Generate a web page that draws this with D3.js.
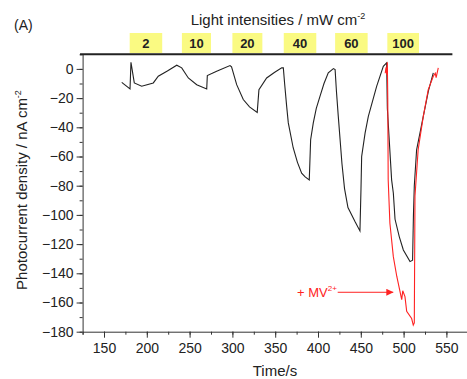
<!DOCTYPE html>
<html>
<head>
	<title></title>
	<script src="https://d3js.org/d3.v7.min.js" charset="utf-8"></script>
	<style type="text/css">
		body { margin: 0; background: #fff; }
		svg text { font-family: 'Liberation Sans', Arial, sans-serif; fill: #222; }
	</style>
</head>
<body>
	<script type="text/javascript">
		// light intensity windows (s)
		var lightLabels = ["2", "10", "20", "40", "60", "100"];
		var lightStart  = [180, 241, 300, 360, 420, 481];
		var lightEnd    = [218, 275, 335, 398, 458, 518];

		// photocurrent without MV2+
		var blackTime = [170.7, 180.4, 181.5, 185.4, 194, 207.6, 213.4, 224, 235, 240.8, 248.5, 258.3, 270, 270.7, 281.6, 297.2, 299,
			305, 312.7, 320, 329, 331, 340, 349, 357.6, 359.5, 361, 363.4, 365.3, 371, 376, 380.9, 385, 389.8, 391.4, 394.5,
			398, 402.3, 407, 412, 418, 420, 421.5, 423.7, 428, 431, 435, 443.2, 449, 450.2, 451, 455, 458.8, 468.5, 476.3,
			480.2, 481, 486, 488, 490, 495, 499.7, 507.5, 510.5, 511.5, 512.5, 515.2, 523, 529, 534.7];
		var blackValue = [-9.2, -13.7, 4.5, -9.6, -11.9, -9.6, -5, -1.5, 2.5, 0.7, -6.2, -10.8, -13.7, -4.6, -1.6, 2.3, 1.4,
			-10.8, -21, -26, -29.8, -14.2, -6.2, -2.5, 0.7, 0.7, -10, -25.7, -37, -54, -64, -71.4, -74, -76, -48.5, -37,
			-27, -18.8, -10, -2.7, 0.2, -0.5, -15, -32.5, -65, -82, -95, -104.6, -111, -82.8, -60, -44, -32.5, -12, 1.8,
			4.1, -27, -76, -85, -103, -115, -124, -132, -131, -100, -80, -55.4, -32.5, -15, -2.7];

		// photocurrent with MV2+
		var redTime = [478.5, 479.5, 480.3, 481, 481.5, 482, 484, 488, 492, 497.8, 499, 501.6, 503.6, 509.4, 511.3, 512.5,
			513.3, 517, 523, 528.8, 534.7, 537, 538, 540.5];
		var redValue = [-3, 1, -4, 4.5, -20, -76, -105.7, -128.6, -142, -158, -152, -156, -166, -171, -175.5, -174,
			-87, -55.4, -32.5, -14.2, -5, -3, -6, 0.7];

		var xTicks = [150, 200, 250, 300, 350, 400, 450, 500, 550];
		var yTicks = [0, -20, -40, -60, -80, -100, -120, -140, -160, -180];

		var w = 467, h = 379;
		var svg = d3.select('body').append('svg')
			.attr('width', w).attr('height', h);

		var x = d3.scaleLinear().domain([125, 575]).range([82.6, 467.8]);
		var y = d3.scaleLinear().domain([-180, 10]).range([331.7, 54.3]);

		// x axis
		svg.append('g')
			.attr('transform', 'translate(0,' + y(-180) + ')')
			.call(d3.axisBottom(x).tickValues(d3.range(125, 576, 25)).tickSize(3).tickFormat(''))
			.call(function(g){ g.selectAll('path,line').attr('stroke', '#333'); });
		svg.append('g')
			.attr('transform', 'translate(0,' + y(-180) + ')')
			.call(d3.axisBottom(x).tickValues(xTicks).tickSize(6).tickPadding(5))
			.call(function(g){
				g.select('.domain').remove();
				g.selectAll('line').attr('stroke', '#333');
				g.selectAll('text').style('font-size', '14px').attr('fill', '#222');
			});

		// y axis
		svg.append('g')
			.attr('transform', 'translate(' + x(125) + ',0)')
			.call(d3.axisLeft(y).tickValues(d3.range(-180, 11, 10)).tickSize(3).tickFormat('').tickSizeOuter(0))
			.call(function(g){ g.selectAll('path,line').attr('stroke', '#333'); });
		svg.append('g')
			.attr('transform', 'translate(' + x(125) + ',0)')
			.call(d3.axisLeft(y).tickValues(yTicks).tickSize(6).tickPadding(3))
			.call(function(g){
				g.select('.domain').remove();
				g.selectAll('line').attr('stroke', '#333');
				g.selectAll('text').style('font-size', '14px').attr('fill', '#222');
			});

		// top bar
		svg.append('line')
			.attr('x1', x(122)).attr('x2', x(557))
			.attr('y1', y(10)).attr('y2', y(10))
			.attr('stroke', '#222').attr('stroke-width', 2);

		var boxes = svg.selectAll('g.light')
			.data(lightLabels)
			.enter().append('g').attr('class', 'light');
		boxes.append('rect')
			.attr('x', function(d, i){ return x(lightStart[i]); })
			.attr('width', function(d, i){ return x(lightEnd[i]) - x(lightStart[i]); })
			.attr('y', 33).attr('height', 20)
			.attr('fill', '#fafa82');
		boxes.append('text')
			.attr('x', function(d, i){ return (x(lightStart[i]) + x(lightEnd[i])) / 2; })
			.attr('y', 48)
			.attr('text-anchor', 'middle')
			.style('font-size', '13px').style('font-weight', 'bold')
			.text(function(d){ return d; });

		var line = d3.line()
			.x(function(d){ return x(d[0]); })
			.y(function(d){ return y(d[1]); });

		svg.append('path')
			.datum(d3.zip(blackTime, blackValue))
			.attr('d', line)
			.attr('fill', 'none').attr('stroke', '#222').attr('stroke-width', 1.1);

		svg.append('path')
			.datum(d3.zip(redTime, redValue))
			.attr('d', line)
			.attr('fill', 'none').attr('stroke', '#ff2222').attr('stroke-width', 1.1);

		// annotation
		svg.append('defs').append('marker')
			.attr('id', 'arr').attr('viewBox', '0 0 10 10')
			.attr('refX', 10).attr('refY', 5)
			.attr('markerWidth', 7).attr('markerHeight', 7)
			.attr('markerUnits', 'userSpaceOnUse')
			.attr('orient', 'auto')
			.append('path').attr('d', 'M0,0L10,5L0,10z').attr('fill', '#ff2222');
		svg.append('line')
			.attr('x1', x(423)).attr('x2', x(488))
			.attr('y1', y(-153)).attr('y2', y(-153))
			.attr('stroke', '#ff2222').attr('stroke-width', 1)
			.attr('marker-end', 'url(#arr)');
		var mv = svg.append('text')
			.attr('x', x(422)).attr('y', y(-156))
			.attr('text-anchor', 'end')
			.style('font-size', '13px').style('fill', '#ff2222');
		mv.append('tspan').text('+ MV');
		mv.append('tspan').attr('dy', -6).style('font-size', '8px').text('2+');

		// titles
		var tt = svg.append('text')
			.attr('x', 278).attr('y', 25)
			.attr('text-anchor', 'middle')
			.style('font-size', '15px');
		tt.append('tspan').text('Light intensities / mW cm');
		tt.append('tspan').attr('dy', -6).style('font-size', '9px').text('-2');

		svg.append('text')
			.attr('x', 14).attr('y', 30)
			.style('font-size', '14px')
			.text('(A)');

		svg.append('text')
			.attr('x', 275).attr('y', 376)
			.attr('text-anchor', 'middle')
			.style('font-size', '15px')
			.text('Time/s');

		var yl = svg.append('text')
			.attr('transform', 'translate(27,190) rotate(-90)')
			.attr('text-anchor', 'middle')
			.style('font-size', '15px');
		yl.append('tspan').text('Photocurrent density / nA cm');
		yl.append('tspan').attr('dy', -6).style('font-size', '9px').text('-2');
	</script>
</body>
</html>
